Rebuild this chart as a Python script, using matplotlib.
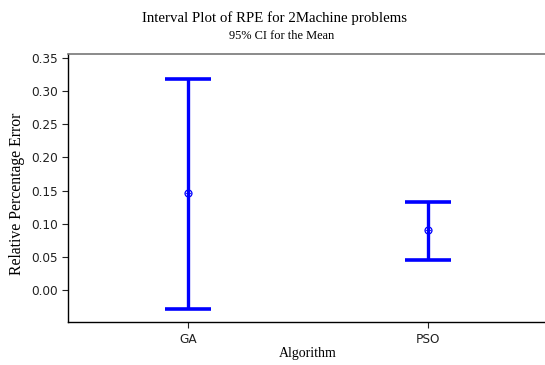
import numpy as np
import matplotlib
matplotlib.use("Agg")
import matplotlib.pyplot as plt

# 95% CI for the mean
algorithms = ["GA", "PSO"]
means = [0.147, 0.0908]
lower = [-0.0277, 0.0456]
upper = [0.318, 0.133]

serif = ["Liberation Serif", "DejaVu Serif"]

fig = plt.figure(figsize=(5.45, 3.65), dpi=100)
ax = fig.add_axes([0.1248, 0.117, 0.8807, 0.7342])

x = np.arange(1, len(algorithms) + 1)
m = np.array(means)
yerr = np.array([m - np.array(lower), np.array(upper) - m])
ax.errorbar(x, m, yerr=yerr, fmt="none", ecolor="#0000ff",
            elinewidth=2.4, capsize=16.5, capthick=2.6)
ax.plot(x, m, "o", ms=5, mfc="none", mec="#0000ff", mew=0.9)
ax.plot(x, m, "+", ms=5, color="#0000ff", mew=0.6)

ax.set_xlim(0.5, 2.5)
ax.set_ylim(-0.0482, 0.3554)
ax.set_xticks(x)
ax.set_xticklabels(algorithms)
ax.set_yticks(np.arange(0, 0.36, 0.05))
ax.set_yticklabels(["%.2f" % v for v in np.arange(0, 0.36, 0.05)])
ax.tick_params(labelsize=8.7, length=4, width=0.8, colors="#222222")
ax.spines["top"].set_color("#777777")
ax.spines["top"].set_linewidth(1.2)
ax.spines["right"].set_visible(False)
ax.spines["left"].set_linewidth(1.0)
ax.spines["bottom"].set_linewidth(1.0)

fig.text(0.565, 1 - 354 / 365, "Algorithm", family=serif, fontsize=10,
         ha="center", va="center")
fig.text(17 / 545, 1 - 194 / 365, "Relative Percentage Error", family=serif,
         fontsize=11.3, rotation=90, ha="center", va="center")

fig.text(0.503, 1 - 18 / 365, "Interval Plot of RPE for 2Machine problems",
         family=serif, fontsize=10.7, ha="center", va="center")
fig.text(0.517, 1 - 36 / 365, "95% CI for the Mean",
         family=serif, fontsize=8.9, ha="center", va="center")

fig.savefig("out.png", dpi=100)
